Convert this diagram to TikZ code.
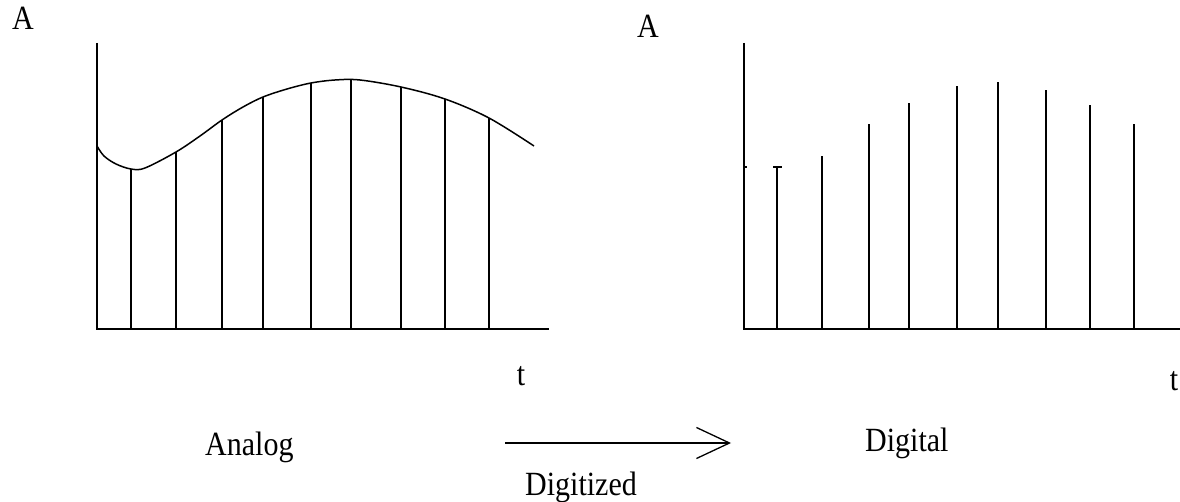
\documentclass[tikz,border=0pt]{standalone}
\usepackage{graphicx}
\usepackage{fontspec}
\setmainfont{Liberation Serif}
\usetikzlibrary{arrows.meta}
\newcommand{\tall}[1]{\scalebox{1}[1.13]{#1}}
\begin{document}
\begin{tikzpicture}[x=1pt,y=-1pt,
  axis/.style={line width=1.6pt,black},
  stem/.style={line width=1.5pt,black},
  curve/.style={line width=1.5pt,black},
  lbl/.style={inner sep=0pt,font=\fontsize{30}{30}\selectfont},
  arr/.style={line width=1.5pt,-{Straight Barb[length=33pt,width=31pt,line width=1.3pt]}}]
\useasboundingbox (0,0) rectangle (1180,502);
\fill[white] (0,0) rectangle (1180,502);

% ---------- left (analog) ----------
\coordinate (LO) at (97,329);
\coordinate (LY) at (97,43);
\coordinate (LX) at (549,329);
\draw[axis] (LY) -- (LO) -- (LX);
\draw[curve] plot[smooth,tension=0.55] coordinates {
 (97,146) (104,156) (116,164) (131,169) (145,168) (176,152) (200,136)
 (222,120) (243,107) (263,97) (287,89) (311,83) (335,80) (360,80)
 (401,87) (445,99) (489,118) (534,146)};
\foreach \x/\y in {131/169,176/152,222/120,263/97,311/83,351/80,401/87,445/99,489/118}
  \draw[stem] (\x,329) -- (\x,\y);
\node[lbl,anchor=base] (LA) at (23,30) {\tall{A}};
\node[lbl,anchor=base] (Lt) at (521,385) {\tall{t}};

% ---------- right (digital) ----------
\coordinate (RO) at (744,329);
\coordinate (RY) at (744,43);
\coordinate (RX) at (1185,329);
\draw[axis] (RY) -- (RO) -- (RX);
\draw[line width=1.2pt] (744,167) -- (747,167);
\foreach \x/\y in {777/167,822/156,869/124,909/103,957/86,998/82,1046/90,1090/105,1134/124}
  \draw[stem] (\x,329) -- (\x,\y);
\draw[line width=2pt] (773,167) -- (782,167);
\node[lbl,anchor=base] (RA) at (648,38) {\tall{A}};
\node[lbl,anchor=base] (Rt) at (1174,390) {\tall{t}};

% ---------- bottom labels and arrow ----------
\node[lbl,anchor=base west] (analog) at (205,455) {\tall{Analog}};
\node[lbl,anchor=base west] (digital) at (865,451) {\tall{Digital}};
\node[lbl,anchor=base west] (digitized) at (525,495) {\tall{Digitized}};
\coordinate (arrS) at (505,443);
\coordinate (arrE) at (731,443);
\draw[arr] (arrS) -- (arrE);
\end{tikzpicture}
\end{document}
